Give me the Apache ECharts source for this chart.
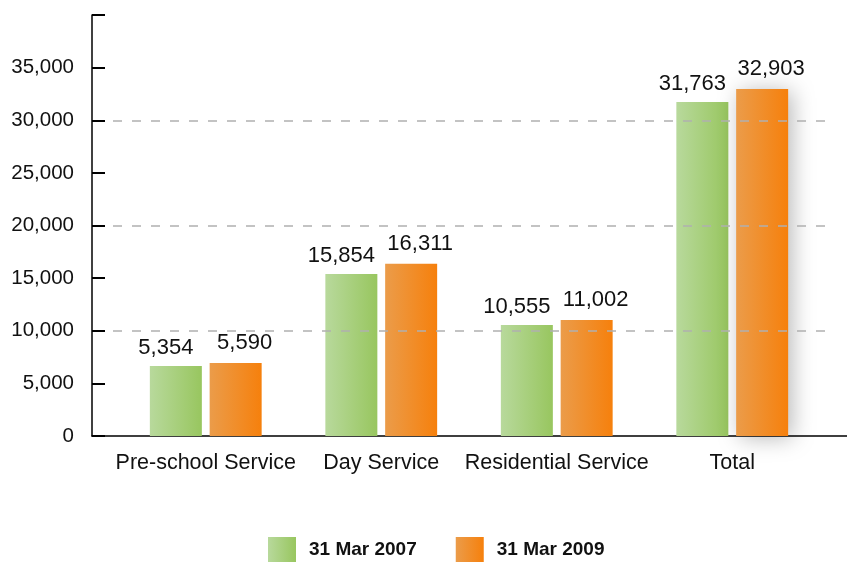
<!DOCTYPE html>
<html>
<head>
<meta charset="utf-8">
<script src="https://cdn.jsdelivr.net/npm/echarts@6/dist/echarts.min.js"></script>
<style>
  html, body { margin: 0; padding: 0; background: #fff; }
  #chart { width: 847px; height: 562px; }
</style>
</head>
<body>
<div id="chart"></div>
<script>
var categories = ['Pre-school Service', 'Day Service', 'Residential Service', 'Total'];
var seriesNames = ['31 Mar 2007', '31 Mar 2009'];
// bar heights as drawn in the picture
var bars2007 = [6650, 15390, 10550, 31730];
var bars2009 = [6940, 16370, 11020, 32970];
// printed value labels
var labels2007 = ['5,354', '15,854', '10,555', '31,763'];
var labels2009 = ['5,590', '16,311', '11,002', '32,903'];
var gridLines = [10000, 20000, 30000];
var yTicks = ['0', '5,000', '10,000', '15,000', '20,000', '25,000', '30,000', '35,000'];

var font = '"Liberation Sans", Helvetica, Arial, sans-serif';

function grad(c1, c2) {
    return new echarts.graphic.LinearGradient(0, 0, 1, 0, [
        { offset: 0, color: c1 },
        { offset: 1, color: c2 }
    ]);
}
var green = grad('#b8d99c', '#98c65f');
var orange = grad('#eb9c4a', '#f6800c');

function barData(values, withShadow) {
    return values.map(function (v, i) {
        if (withShadow && i === values.length - 1) {
            return { value: v, itemStyle: { shadowBlur: 22, shadowColor: 'rgba(0,0,0,0.28)', shadowOffsetX: 4, shadowOffsetY: 2 } };
        }
        return v;
    });
}

var myChart = echarts.init(document.getElementById('chart'), null, { renderer: 'canvas' });

var option = {
    backgroundColor: '#ffffff',
    animation: false,
    textStyle: { fontFamily: font },
    legend: {
        data: seriesNames,
        left: 263,
        top: 532,
        itemWidth: 28,
        itemHeight: 25,
        itemGap: 39,
        icon: 'rect',
        textStyle: { fontFamily: font, fontSize: 19, fontWeight: 'bold', color: '#111', padding: [0, 0, 0, 8] }
    },
    grid: [
        { left: 92, right: 0, top: 15, bottom: 126 },
        { left: 118, right: 27, top: 15, bottom: 126 }
    ],
    xAxis: [{
        gridIndex: 0,
        type: 'value',
        min: 0, max: 1,
        axisLine: { show: true, lineStyle: { color: '#000', width: 1.5 } },
        axisTick: { show: false },
        axisLabel: { show: false },
        splitLine: { show: false }
    }, {
        gridIndex: 1,
        type: 'category',
        data: categories,
        axisLine: { show: false },
        axisTick: { show: false },
        axisLabel: { interval: 0, fontFamily: font, fontSize: 21.5, color: '#111', margin: 16 }
    }],
    yAxis: [{
        gridIndex: 0,
        type: 'value',
        min: 0, max: 40000, interval: 5000,
        axisLine: { show: true, lineStyle: { color: '#000', width: 1.5 } },
        axisTick: { show: true, inside: true, length: 13, lineStyle: { color: '#000', width: 2 } },
        axisLabel: {
            fontFamily: font, fontSize: 20.5, color: '#111', margin: 18,
            formatter: function (v) { return yTicks[v / 5000] || ''; }
        },
        splitLine: { show: false }
    }, {
        gridIndex: 1,
        type: 'value',
        min: 0, max: 40000, interval: 5000,
        show: false
    }],
    series: [{
        type: 'line',
        xAxisIndex: 1, yAxisIndex: 1,
        data: [],
        z: 1,
        silent: true,
        markLine: {
            silent: true,
            symbol: 'none',
            label: { show: false },
            lineStyle: { color: '#b0b0b0', type: [9, 10], width: 1.5 },
            data: gridLines.map(function (v) { return [{ yAxis: v, x: 113 }, { yAxis: v, x: 830 }]; })
        }
    }, {
        name: seriesNames[0],
        type: 'bar',
        xAxisIndex: 1, yAxisIndex: 1,
        z: 3,
        barWidth: 52,
        barGap: '15%',
        itemStyle: { color: green },
        label: {
            show: true, position: 'top', distance: 7, offset: [-10, 0],
            fontFamily: font, fontSize: 22, color: '#111',
            formatter: function (p) { return labels2007[p.dataIndex]; }
        },
        data: barData(bars2007, false)
    }, {
        name: seriesNames[1],
        type: 'bar',
        xAxisIndex: 1, yAxisIndex: 1,
        z: 3,
        barWidth: 52,
        barGap: '15%',
        itemStyle: { color: orange },
        label: {
            show: true, position: 'top', distance: 9, offset: [9, 0],
            fontFamily: font, fontSize: 22, color: '#111',
            formatter: function (p) { return labels2009[p.dataIndex]; }
        },
        data: barData(bars2009, true)
    }]
};

myChart.setOption(option);
</script>
</body>
</html>
